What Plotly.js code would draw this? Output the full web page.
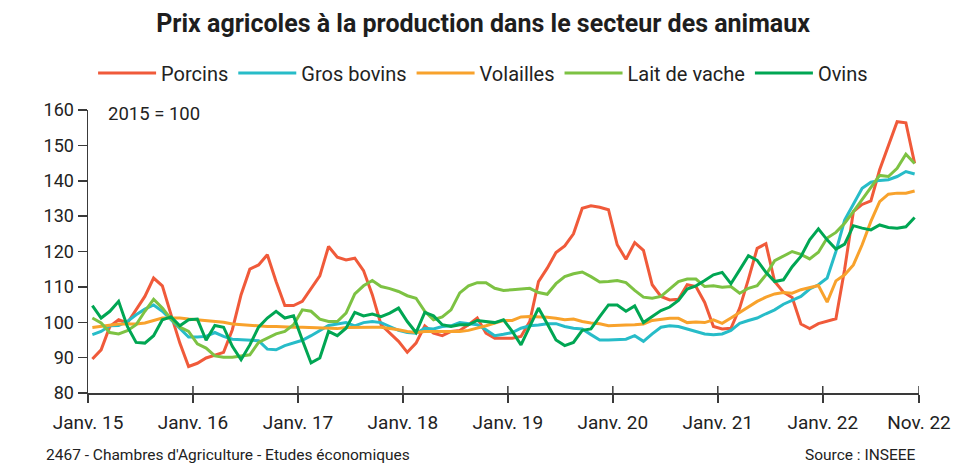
<!DOCTYPE html>
<html>
<head>
<meta charset="utf-8">
<script src="https://cdn.plot.ly/plotly-3.0.1.min.js"></script>
<style>html,body{margin:0;padding:0;background:#fff;}#chart{width:972px;height:465px;}</style>
</head>
<body>
<div id="chart"></div>
<script>
// Months: Janv. 2015 .. Nov. 2022 (95 months), index 0..94
const startYear = 2015, nMonths = 95;
const months = Array.from({length: nMonths}, (_, i) => (startYear + Math.floor(i / 12)) + '-' + String(i % 12 + 1).padStart(2, '0'));

const porcins = [89.6,92.2,98.8,100.7,99.8,103.5,107.3,112.5,110.3,102.1,94.1,87.5,
  88.4,89.9,90.8,91.5,97.9,107.8,115.0,116.2,119.1,111.5,104.7,104.7,
  105.9,109.6,113.1,121.4,118.4,117.6,118.1,114.6,107.8,99.3,96.9,94.6,
  91.5,94.1,99.0,96.9,96.2,97.4,97.7,99.3,101.2,96.9,95.5,95.4,
  95.5,96.0,100.2,111.5,115.3,119.7,121.6,125.0,132.2,132.9,132.5,131.8,
  121.9,117.8,122.5,120.3,110.6,107.3,106.3,106.5,110.6,110.1,105.6,98.8,
  98.1,98.3,104.0,112.2,120.9,122.2,111.5,108.5,107.0,99.5,98.2,99.6,
  100.2,101.0,115.0,131.3,133.3,134.3,143.1,149.6,156.7,156.4,144.9];

const grosBovins = [96.5,97.4,99.0,99.1,100.2,102.1,103.7,104.9,103.1,100.7,98.3,95.8,
  95.8,96.0,97.1,96.0,95.2,95.0,95.0,94.8,92.4,92.2,93.4,94.1,
  94.9,96.2,97.7,99.1,99.5,99.9,99.0,99.9,100.2,99.9,98.8,97.7,
  97.1,96.9,98.3,98.1,98.8,99.0,99.9,99.5,99.3,97.9,96.2,96.6,
  97.1,98.3,99.0,99.2,99.6,99.6,98.8,98.3,98.1,96.5,95.0,95.0,
  95.0,95.2,96.2,94.6,96.7,98.6,99.0,98.8,98.1,97.4,96.7,96.5,
  96.7,97.7,99.7,100.5,101.2,102.4,103.5,105.1,106.1,107.3,109.4,110.6,
  112.5,120.0,128.9,133.2,137.9,139.6,140.1,140.3,141.2,142.6,141.9];

const volailles = [98.5,98.8,99.1,99.5,99.5,99.5,99.8,100.4,101.2,101.2,101.2,100.9,
  100.7,100.5,100.2,100.0,99.5,99.3,99.1,99.0,98.8,98.8,98.6,98.6,
  98.6,98.5,98.3,98.2,98.2,98.5,98.6,98.6,98.6,98.6,98.3,97.9,
  97.4,97.1,97.4,97.4,97.4,97.4,97.4,97.7,98.3,99.0,99.8,100.5,
  100.5,101.5,101.6,101.6,101.4,101.1,100.7,100.9,100.2,99.8,99.6,99.0,
  99.0,99.2,99.3,99.5,100.5,100.9,101.1,101.1,99.9,100.1,99.9,100.7,
  99.7,101.2,102.8,104.5,105.9,107.1,108.0,108.4,108.2,109.2,109.8,110.4,
  105.7,111.7,113.4,116.2,121.9,128.5,134.1,136.2,136.5,136.5,137.1];

const laitDeVache = [101.2,99.8,97.1,96.7,97.6,99.3,103.1,106.5,104.0,100.9,98.6,97.4,
  93.9,92.7,90.5,90.1,90.1,90.5,90.8,94.3,95.5,96.7,97.4,99.3,
  103.5,103.1,100.9,100.2,100.2,102.6,108.0,110.3,111.8,110.1,109.5,108.7,
  107.5,106.8,103.1,100.7,101.5,103.5,108.3,110.3,111.2,111.2,109.6,109.0,
  109.2,109.4,109.6,108.4,107.9,110.9,112.9,113.7,114.2,112.9,111.4,111.5,
  111.8,111.2,109.0,107.1,106.8,107.3,109.4,111.5,112.2,112.2,110.1,110.3,
  109.9,110.1,108.2,109.6,110.3,113.4,117.4,118.6,120.0,119.2,117.9,119.8,
  123.8,125.4,128.0,131.3,134.6,137.9,141.5,141.2,143.5,147.5,144.9];

const ovins = [104.7,101.2,103.1,105.9,98.8,94.3,94.1,96.2,100.7,101.5,99.0,100.7,
  100.9,94.9,99.1,98.6,93.2,89.4,93.6,98.6,101.2,103.1,101.2,101.8,
  95.0,88.5,89.9,97.4,96.2,98.3,102.8,101.8,102.3,101.6,102.6,104.0,
  100.2,97.1,102.8,101.8,99.3,98.8,99.3,99.3,100.5,100.2,99.9,100.7,
  97.4,93.6,98.8,104.0,99.6,95.0,93.4,94.3,97.7,98.1,101.6,104.9,
  104.9,103.1,104.6,99.9,101.6,103.3,104.3,106.2,109.4,110.3,111.8,113.4,
  114.1,110.9,114.8,118.8,117.5,114.1,111.5,112.0,115.7,118.6,123.3,126.4,
  123.3,120.7,122.1,127.3,126.6,126.1,127.5,126.8,126.6,127.0,129.6];

const seriesNames = ['Porcins', 'Gros bovins', 'Volailles', 'Lait de vache', 'Ovins'];
const seriesValues = [porcins, grosBovins, volailles, laitDeVache, ovins];
const seriesColors = ['#F05A3A', '#27BCC8', '#F8A22C', '#7DC243', '#00A653'];

const tickLabels = ['Janv. 15','Janv. 16','Janv. 17','Janv. 18','Janv. 19','Janv. 20','Janv. 21','Janv. 22','Nov. 22'];
const tickIdx = [-0.5, 11.5, 23.5, 35.5, 47.5, 59.5, 71.5, 83.5, 94.5];

const xs = months.map((_, i) => i);
const FONT = 'Roboto, "Noto Sans", sans-serif';
const AXIS = '#3a3a3a';

const traces = seriesNames.map((name, k) => ({
  type: 'scatter', mode: 'lines', name: name,
  x: xs, y: seriesValues[k],
  line: {color: seriesColors[k], width: 3},
  hoverinfo: 'skip'
}));

// upward half of the x-axis ticks (the ticks cross the axis line)
const tickUp = tickIdx.slice(1).map(t => ({
  type: 'line', xref: 'x', yref: 'y', ysizemode: 'pixel', yanchor: 80,
  x0: t, x1: t, y0: 0, y1: 7, line: {color: AXIS, width: 1.5}
}));

const layout = {
  width: 972, height: 465,
  margin: {l: 88, r: 53, t: 110, b: 72},
  paper_bgcolor: '#fff', plot_bgcolor: '#fff',
  font: {family: FONT, color: '#222', size: 17},
  title: {
    text: '<b>Prix agricoles à la production dans le secteur des animaux</b>',
    font: {family: FONT, size: 25, color: '#1e1e1e'},
    x: 0.497, xref: 'container', xanchor: 'center',
    y: 1 - 23 / 465, yref: 'container', yanchor: 'middle'
  },
  showlegend: true,
  legend: {
    orientation: 'h', xref: 'container', yref: 'container',
    x: 0.497, xanchor: 'center', y: 1 - 73 / 465, yanchor: 'middle',
    font: {family: FONT, size: 20, color: '#222'},
    itemwidth: 58, tracegroupgap: 0
  },
  xaxis: {
    range: [-0.5, 94.5], showgrid: false, zeroline: false,
    showline: true, linecolor: AXIS, linewidth: 1.5,
    ticks: 'outside', ticklen: 8, tickwidth: 1.5, tickcolor: AXIS,
    tickmode: 'array', tickvals: tickIdx, ticktext: tickLabels,
    ticklabelstandoff: 4,
    tickfont: {family: FONT, size: 19, color: '#222'}
  },
  yaxis: {
    range: [80, 160], dtick: 10, tick0: 80, showgrid: false, zeroline: false,
    showline: true, linecolor: AXIS, linewidth: 1.5,
    ticks: 'outside', ticklen: 9, tickwidth: 1.5, tickcolor: AXIS,
    tickfont: {family: FONT, size: 18, color: '#222'}
  },
  shapes: tickUp,
  annotations: [
    {text: '2015 = 100', xref: 'paper', yref: 'paper', x: 0.022, y: 0.985,
     xanchor: 'left', yanchor: 'middle', showarrow: false,
     font: {family: FONT, size: 18.5, color: '#222'}},
    {text: "2467 - Chambres d'Agriculture - Etudes économiques", xref: 'paper', yref: 'paper',
     x: (44 - 88) / 831, y: (393 - 455) / 283, xanchor: 'left', yanchor: 'middle', showarrow: false,
     font: {family: FONT, size: 15.5, color: '#222'}},
    {text: 'Source : INSEEE', xref: 'paper', yref: 'paper',
     x: (918 - 88) / 831, y: (393 - 455) / 283, xanchor: 'right', yanchor: 'middle', showarrow: false,
     font: {family: FONT, size: 15.5, color: '#222'}}
  ]
};

Plotly.newPlot('chart', traces, layout, {staticPlot: true, displayModeBar: false});
</script>
</body>
</html>
